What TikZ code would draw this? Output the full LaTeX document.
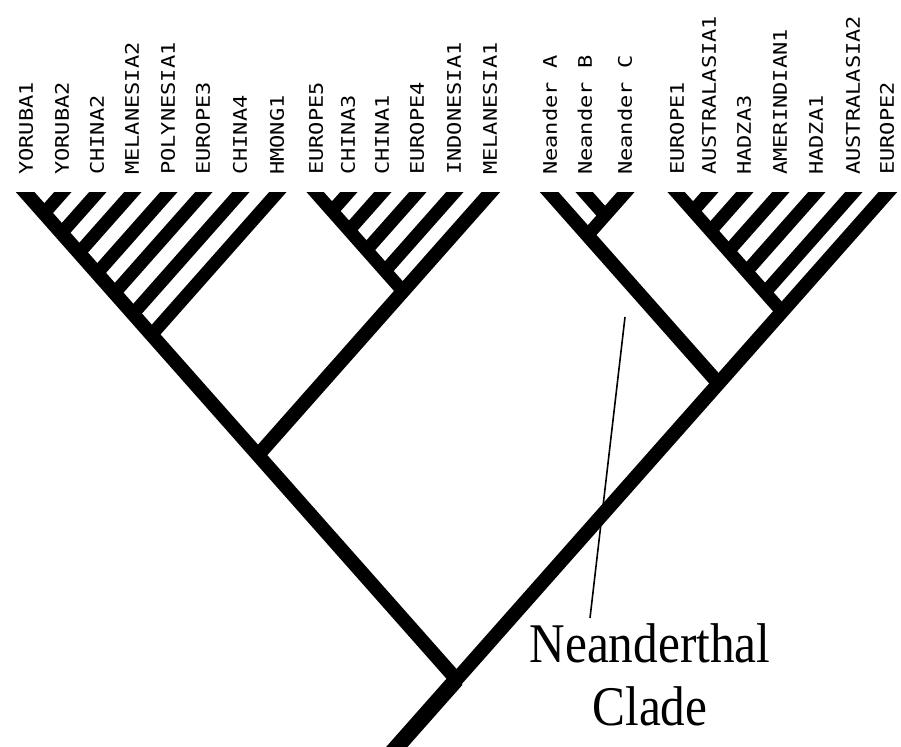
\documentclass[tikz,border=0pt]{standalone}
\usepackage{fontspec}
\setmainfont{Liberation Serif}
\newfontfamily\taxfont{DejaVu Sans Mono}
\usepackage{tikz}
\usetikzlibrary{calc}
\tikzset{
    branch/.style={line width=13pt, line cap=butt, shorten <=-14pt},
    trunk/.style={line width=14pt, line cap=butt, shorten <=-14pt},
    taxon/.style={rotate=90, anchor=base west, inner sep=0pt,
        font=\taxfont\fontsize{22}{22}\selectfont},
    caption/.style={anchor=base, inner sep=0pt, font=\fontsize{56}{63}\selectfont},
}
\newcommand{\taxlabel}[1]{\scalebox{1}[0.85]{#1}}
% internal node: where the lines from its outermost tips meet
\newcommand{\joint}[3]{%
    \path let \p1=(#2), \p2=(#3) in
        coordinate (#1) at ({(\x1+\x2)/2},{\y1-1.13*(\x2-\x1)/2});}

\begin{document}
\begin{tikzpicture}[x=1pt, y=1pt]
    \fill[white] (0,0) rectangle (901,-746);
    \useasboundingbox (0,0) rectangle (901,-746);

    % Tips and their labels
    \foreach \xx/\s/\t in {26/yor1/YORUBA1, 62/yor2/YORUBA2, 97/chi2/CHINA2,
        132/mel2/MELANESIA2, 168/pol1/POLYNESIA1, 203/eur3/EUROPE3,
        240/chi4/CHINA4, 277/hmo1/HMONG1,
        316/eur5/EUROPE5, 348/chi3/CHINA3, 382/chi1/CHINA1, 417/eur4/EUROPE4,
        454/ind1/INDONESIA1, 490/mel1/MELANESIA1,
        550/neaA/Neander A, 585/neaB/Neander B, 625/neaC/Neander C,
        677/eur1/EUROPE1, 709/aus1/AUSTRALASIA1, 744/had3/HADZA3,
        780/ame1/AMERINDIAN1, 816/had1/HADZA1, 853/aus2/AUSTRALASIA2,
        887/eur2/EUROPE2}{
        \coordinate (\s) at (\xx,-193);
        \node[taxon] (lab-\s) at (\xx+6.8,-175) {\taxlabel{\t}};
    }

    % Internal nodes
    \joint{n12}{yor1}{mel1}
    \joint{root}{yor1}{eur2}
    \joint{nr}{neaA}{eur2}
    \joint{rr}{eur1}{eur2}
    \joint{c2}{eur5}{mel1}
    \joint{abc}{neaA}{neaC}
    \joint{bc}{neaB}{neaC}
    \coordinate (base) at ($(root)!-0.17!(eur2)$);

    \begin{scope}
        \clip (0,-192) rectangle (901,-746);

        % Main lines
        \draw[trunk] (yor1) -- (root);
        \draw[trunk] (eur2) -- (base);
        \draw[line width=16pt] (root) -- (base);

        % First clade
        \foreach \s in {yor2,chi2,mel2,pol1,eur3,chi4,hmo1}{
            \joint{j-\s}{yor1}{\s}
            \draw[branch] (\s) -- (j-\s);
        }

        % Second clade
        \draw[trunk] (mel1) -- (n12);
        \draw[branch] (eur5) -- (c2);
        \foreach \s in {chi3,chi1,eur4,ind1}{
            \joint{j-\s}{eur5}{\s}
            \draw[branch] (\s) -- (j-\s);
        }

        % Neanderthals
        \draw[trunk] (neaA) -- (nr);
        \draw[branch] (neaC) -- (abc);
        \draw[branch] (neaB) -- (bc);

        % Last clade
        \draw[branch] (eur1) -- (rr);
        \foreach \s in {aus1,had3,ame1,had1,aus2}{
            \joint{j-\s}{eur1}{\s}
            \draw[branch] (\s) -- (j-\s);
        }
    \end{scope}

    % Label
    \node[caption] (neander) at (650,-662) {\scalebox{0.88}[1]{Neanderthal}};
    \node[caption] (clade) at (650,-725) {\scalebox{0.88}[1]{Clade}};
    \coordinate (lead-top) at (625,-317);
    \coordinate (lead-end) at (590,-618);
    \draw[line width=1.6pt] (lead-top) -- (lead-end);
\end{tikzpicture}
\end{document}
